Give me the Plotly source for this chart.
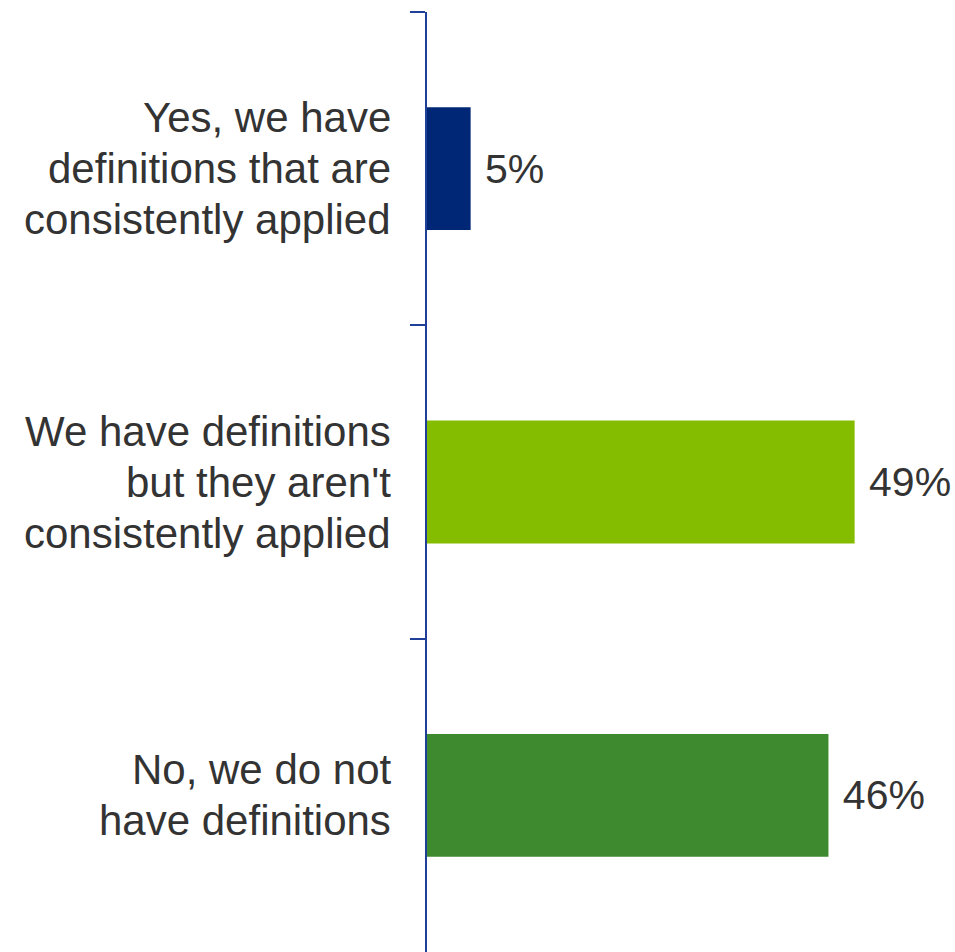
import plotly.graph_objects as go

# Survey responses and their shares (%)
categories = [
    "Yes, we have definitions that are consistently applied",
    "We have definitions but they aren't consistently applied",
    "No, we do not have definitions",
]
label_lines = [
    ["Yes, we have", "definitions that are", "consistently applied"],
    ["We have definitions", "but they aren't", "consistently applied"],
    ["No, we do not", "have definitions"],
]
values = [5, 49, 46]
colors = ["#002776", "#84BC00", "#3E8A2F"]

FONT = "Liberation Sans, Arial, sans-serif"
TEXT_COLOR = "#333333"
AXIS_COLOR = "#1F3F99"
LINE_STEP = 51  # px between wrapped label lines

fig = go.Figure(
    go.Bar(
        x=values,
        y=categories,
        orientation="h",
        marker=dict(color=colors, line=dict(width=0)),
        width=0.392,
        text=[f"\u00a0{v}%" for v in values],
        textposition="outside",
        textfont=dict(family=FONT, size=41, color=TEXT_COLOR),
        cliponaxis=False,
        hoverinfo="skip",
    )
)

# Category labels, one annotation per wrapped line, right-aligned left of the axis
annotations = []
for cat, lines in zip(categories, label_lines):
    n = len(lines)
    for i, line in enumerate(lines):
        annotations.append(
            dict(
                text=line,
                xref="paper",
                x=0,
                xanchor="right",
                xshift=-34,
                yref="y",
                y=cat,
                yanchor="middle",
                yshift=((n - 1) / 2 - i) * LINE_STEP,
                showarrow=False,
                align="right",
                font=dict(family=FONT, size=42, color=TEXT_COLOR),
            )
        )

fig.update_layout(
    width=955,
    height=952,
    margin=dict(l=427, r=0, t=12, b=0),
    paper_bgcolor="white",
    plot_bgcolor="white",
    showlegend=False,
    font=dict(family=FONT, size=40, color=TEXT_COLOR),
    annotations=annotations,
)

fig.update_xaxes(
    range=[0, 60.5],
    visible=False,
    showgrid=False,
    zeroline=False,
)

fig.update_yaxes(
    autorange="reversed",
    showline=True,
    linecolor=AXIS_COLOR,
    linewidth=2,
    ticks="outside",
    tickson="boundaries",
    ticklen=15,
    tickwidth=2,
    tickcolor=AXIS_COLOR,
    showgrid=False,
    zeroline=False,
    showticklabels=False,
)

fig.write_html("out.html")
